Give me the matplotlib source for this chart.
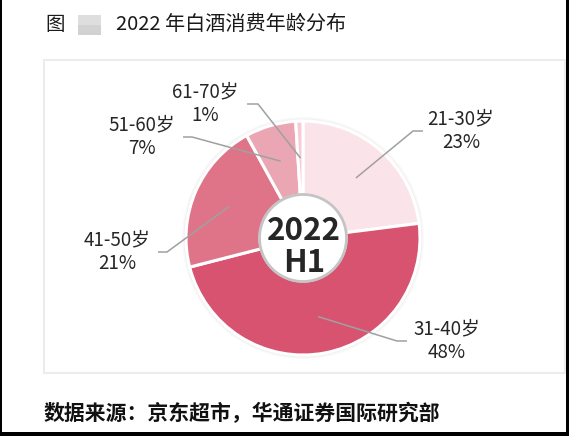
import numpy as np
import matplotlib
matplotlib.use('Agg')
from matplotlib import pyplot as plt
from matplotlib.patches import Circle, Rectangle

plt.rcParams['font.family'] = ['Noto Sans CJK SC', 'DejaVu Sans']

#Data
ages = ['21-30岁', '31-40岁', '41-50岁', '51-60岁', '61-70岁']
shares = [23, 48, 21, 7, 1]
colors = ['#FAE4EA', '#D8536F', '#DF7489', '#EBA6B4', '#F4CDD6']

title = '2022 年白酒消费年龄分布'
centre_text = '2022\nH1'
source = '数据来源：京东超市，华通证券国际研究部'

#Layout in pixels (y measured from top of image)
W, H = 569, 436
cx, cy = 303, 238
r_out, r_in = 117, 43
#text centre, line end x, elbow x for each label
label_pos = [(461, 131, 423, 413),
             (447, 341, 407, 397),
             (117, 252, 158, 167),
             (142, 137, 183, 192),
             (205, 104, 247, 258)]

fig = plt.figure(figsize=(W / 100, H / 100), dpi=100)
ax = fig.add_axes([0, 0, 1, 1])

def Y(y):
    return H - y

#panel behind the chart
ax.add_patch(Rectangle((44, Y(373)), 521, 313, fc='white', ec='#ececec', lw=1.5, zorder=0))

#soft shadow around the ring
for k, a in [(4, 0.05), (2.5, 0.08), (1.2, 0.15)]:
    ax.add_patch(Circle((cx, Y(cy)), r_out + k, fc='#9a9a9a', ec='none', alpha=a, zorder=1))

wedges, _ = ax.pie(shares, colors=colors, startangle=90, counterclock=False,
                   radius=r_out, center=(cx, Y(cy)),
                   wedgeprops=dict(width=r_out - r_in, edgecolor='white', linewidth=2.2))
for w in wedges:
    w.set_zorder(2)

#inner hole with a grey rim
ax.add_patch(Circle((cx, Y(cy)), r_in + 0.5, fc='white', ec='#c4c4c4', lw=2.0, zorder=3))
ax.add_patch(Circle((cx, Y(cy)), r_in - 1.5, fc='white', ec='none', zorder=3))

ax.text(cx + 1, Y(cy + 9), centre_text, ha='center', va='center', fontsize=22.5,
        fontweight='bold', color='#262626', linespacing=1.0, zorder=4)

#labels with leader lines
total = sum(shares)
cum = 0
for name, val, (tx, ty, lx, ex) in zip(ages, shares, label_pos):
    mid = (cum + val / 2) / total * 2 * np.pi
    cum += val
    r_mid = (r_out + r_in) / 2
    sx = cx + r_mid * np.sin(mid)
    sy = cy - r_mid * np.cos(mid)
    ax.plot([sx, ex, lx], [Y(sy), Y(ty), Y(ty)], color='#a0a0a0', lw=1.1, zorder=5,
            solid_capstyle='butt')
    ax.text(tx, Y(ty), f'{name}\n{val}%', ha='center', va='center', fontsize=13.5,
            color='#262626', linespacing=1.15, zorder=5)

#title with the blurred logo
ax.text(45, Y(25), '图', ha='left', va='center', fontsize=14, color='#1a1a1a')
ax.add_patch(Rectangle((78, Y(35)), 23, 20, fc='#cdcdcd', ec='none', alpha=0.9))
ax.add_patch(Rectangle((78, Y(25)), 23, 10, fc='#e2e2e2', ec='none', alpha=0.8))
ax.text(116, Y(25), title, ha='left', va='center', fontsize=14.5, color='#1a1a1a')

#source line
ax.text(44, Y(413), source, ha='left', va='center', fontsize=15,
        fontweight='bold', color='#111111')

#black frame of the screenshot
ax.add_patch(Rectangle((0, 0), 2, H, fc='black', ec='none'))
ax.add_patch(Rectangle((566, 0), 3, H, fc='black', ec='none'))
ax.add_patch(Rectangle((0, 0), W, 4, fc='black', ec='none'))

ax.set_xlim(0, W)
ax.set_ylim(0, H)
ax.set_aspect('auto')
ax.axis('off')

plt.savefig('out.png', dpi=100)
